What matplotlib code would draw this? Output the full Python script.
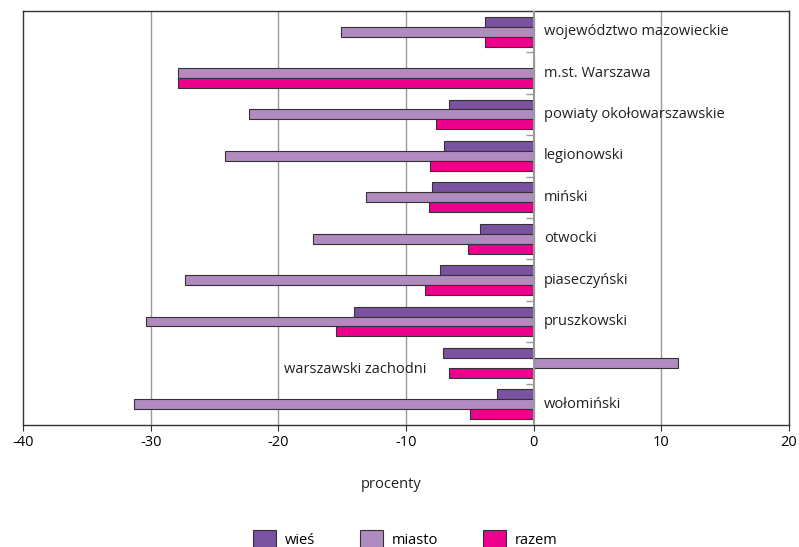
import matplotlib.pyplot as plt
import numpy as np

plt.rcParams["font.family"] = ["Open Sans", "DejaVu Sans"]
plt.rcParams["axes.unicode_minus"] = False

categories = ["województwo mazowieckie", "m.st. Warszawa", "powiaty okołowarszawskie",
              "legionowski", "miński", "otwocki", "piaseczyński", "pruszkowski",
              "warszawski zachodni", "wołomiński"]
wies = [-3.8, 0.0, -6.6, -7.0, -8.0, -4.2, -7.35, -14.1, -7.1, -2.9]
miasto = [-15.1, -27.85, -22.3, -24.2, -13.1, -17.25, -27.3, -30.4, 11.3, -31.3]
razem = [-3.8, -27.85, -7.65, -8.1, -8.2, -5.15, -8.5, -15.5, -6.65, -5.0]

series = [("wieś", wies, "#7b52a0"), ("miasto", miasto, "#b18bc0"), ("razem", razem, "#ec008c")]

fig = plt.figure(figsize=(7.99, 5.47), dpi=100)
ax = fig.add_axes([0.0288, 0.223, 0.9587, 0.757])

n = len(categories)
y = np.arange(n)
h = 0.24
for i, (name, vals, color) in enumerate(series):
    ax.barh(y + (i - 1) * h, vals, h, color=color, edgecolor="#333333",
            linewidth=0.8, label=name, zorder=3)

ax.set_ylim(n - 0.5, -0.5)
ax.set_xlim(-40, 20)
ax.set_xticks(np.arange(-40, 21, 10))
ax.set_yticks([])
ax.tick_params(axis="x", labelsize=10.5, length=4, color="#333333", pad=3)
for x in (-30, -20, -10, 10):
    ax.axvline(x, color="#999999", lw=1, zorder=1)
ax.axvline(0, color="#999999", lw=1.5, zorder=4)
ax.hlines(y[:-1] + 0.5, -0.6, 0, color="#999999", lw=1, zorder=4)
for s in ax.spines.values():
    s.set_color("#333333")
    s.set_linewidth(1)

for i, cat in enumerate(categories):
    if miasto[i] > 0:
        ax.text(-8.4, y[i] + 0.15, cat, ha="right", va="center", fontsize=10.5, color="#231f20")
    else:
        ax.text(0.8, y[i], cat, ha="left", va="center", fontsize=10.5, color="#231f20")

ax.set_xlabel("procenty", fontsize=10.5, color="#231f20")
ax.xaxis.set_label_coords(0.48, -0.125)

fig.legend(loc="lower center", bbox_to_anchor=(0.507, -0.027), ncol=3, frameon=False,
           fontsize=10.5, handlelength=1.6, handleheight=1.6, columnspacing=3.05,
           handletextpad=0.6)

fig.savefig("out.png", dpi=100)
